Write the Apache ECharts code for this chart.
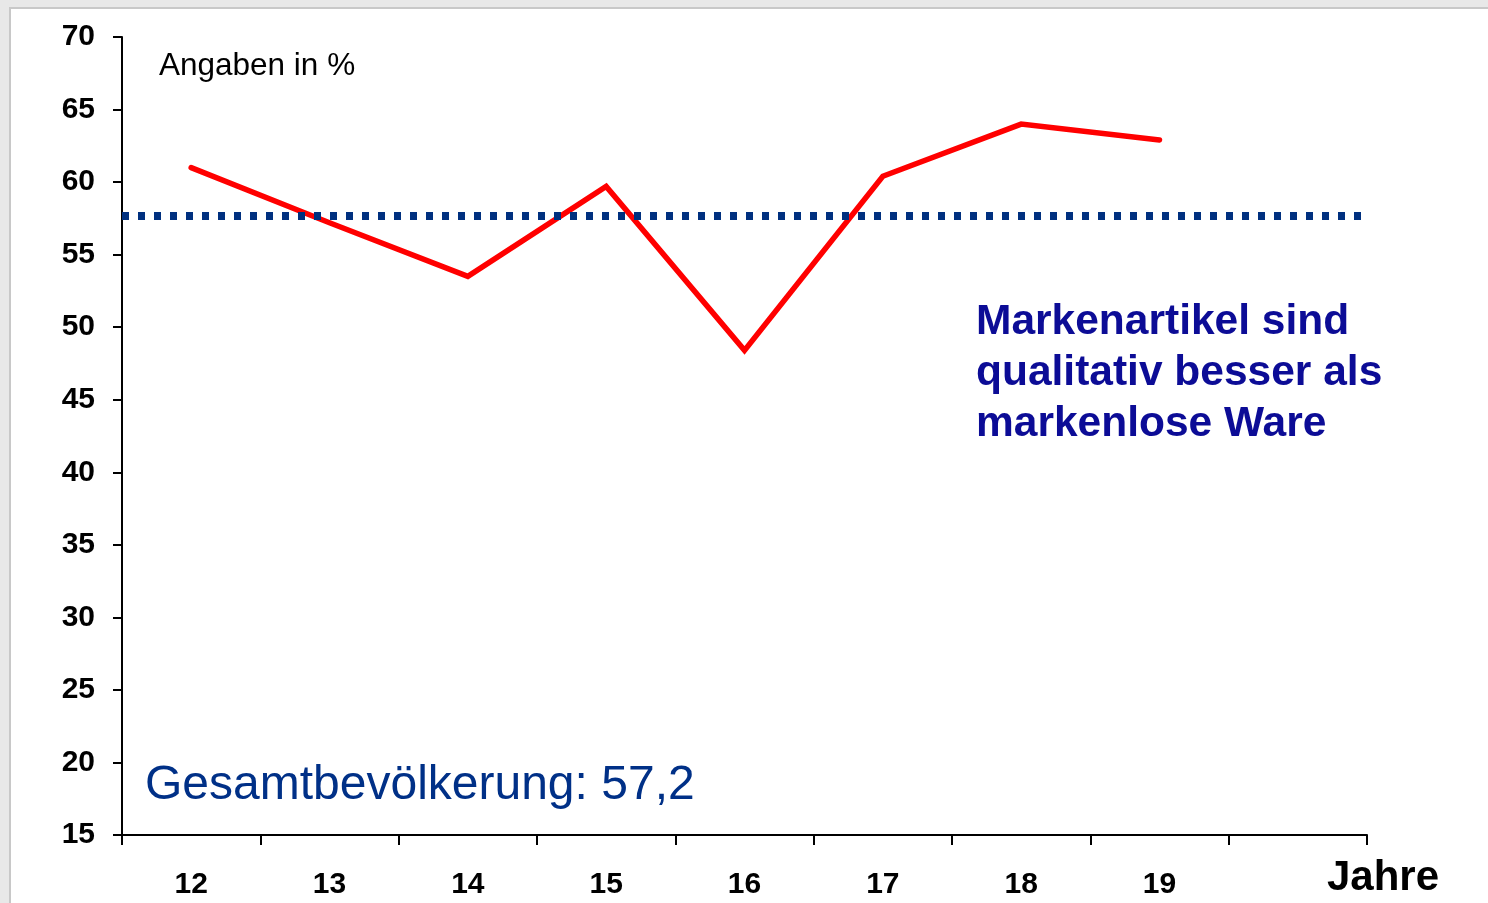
<!DOCTYPE html>
<html>
<head>
<meta charset="utf-8">
<script src="https://cdn.jsdelivr.net/npm/echarts@6/dist/echarts.min.js"></script>
<style>
html, body { margin: 0; padding: 0; background: #e8e8e8; }
#chart { width: 1488px; height: 903px; }
</style>
</head>
<body>
<div id="chart"></div>
<script>
const years = ['12', '13', '14', '15', '16', '17', '18', '19', '']
const markenWerte = [61.0, 57.2, 53.5, 59.7, 48.4, 60.4, 64.0, 62.9, null]
const gesamtLinie = 57.7
const yMin = 15
const yMax = 70
const yStep = 5

const font = 'Liberation Sans, Arial, sans-serif'

const chart = echarts.init(document.getElementById('chart'), null, { renderer: 'canvas' })
chart.setOption({
    animation: false,
    backgroundColor: '#e8e8e8',
    grid: { left: 122, right: 121, top: 37, bottom: 68 },
    graphic: [
        {
            type: 'rect', z: -10, silent: true,
            shape: { x: 10, y: 8, width: 1500, height: 1000 },
            style: { fill: '#ffffff', stroke: '#c8c8c8', lineWidth: 2 },
        },
        {
            type: 'text', left: 159, top: 50,
            style: { text: 'Angaben in %', fill: '#000', font: '31.5px ' + font },
        },
        {
            type: 'text', left: 145, top: 762,
            style: { text: 'Gesamtbevölkerung: 57,2', fill: '#003087', font: '48px ' + font },
        },
        {
            type: 'text', left: 976, top: 297,
            style: {
                text: 'Markenartikel sind\nqualitativ besser als\nmarkenlose Ware',
                fill: '#0c0c96', font: 'bold 42.5px ' + font, lineHeight: 51,
            },
        },
        {
            type: 'text', left: 1327, top: 857,
            style: { text: 'Jahre', fill: '#000', font: 'bold 42px ' + font },
        },
    ],
    xAxis: {
        type: 'category',
        data: years,
        boundaryGap: true,
        axisLine: { lineStyle: { color: '#000', width: 2 } },
        axisTick: { show: true, length: 10, lineStyle: { color: '#000', width: 2 } },
        axisLabel: { color: '#000', fontFamily: font, fontWeight: 'bold', fontSize: 30, margin: 35 },
    },
    yAxis: {
        type: 'value',
        min: yMin,
        max: yMax,
        interval: yStep,
        splitLine: { show: false },
        axisLine: { show: true, lineStyle: { color: '#000', width: 2 } },
        axisTick: { show: true, length: 9, lineStyle: { color: '#000', width: 2 } },
        axisLabel: { color: '#000', fontFamily: font, fontWeight: 'bold', fontSize: 30, margin: 27 },
    },
    series: [{
        type: 'line',
        data: markenWerte,
        showSymbol: false,
        symbol: 'none',
        lineStyle: { color: '#ff0000', width: 5.5, cap: 'round', join: 'miter' },
        markLine: {
            silent: true,
            symbol: 'none',
            label: { show: false },
            lineStyle: { color: '#00307f', width: 8, type: [7, 9], cap: 'butt' },
            data: [{ yAxis: gesamtLinie }],
        },
        z: 3,
    }],
})
</script>
</body>
</html>
